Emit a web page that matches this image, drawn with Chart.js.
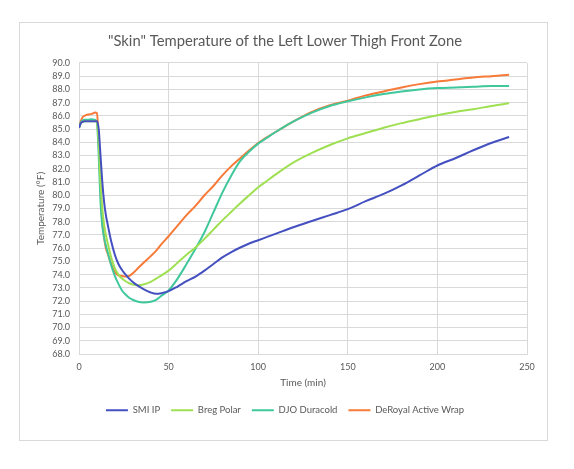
<!DOCTYPE html>
<html>
<head>
<meta charset="utf-8">
<script src="https://cdn.jsdelivr.net/npm/chart.js@4/dist/chart.umd.min.js"></script>
<style>
  html, body { margin: 0; padding: 0; background: #fff; }
  #wrap { position: relative; width: 574px; height: 469px; }
</style>
</head>
<body>
<div id="wrap"><canvas id="skin-chart" width="574" height="469"></canvas></div>
<script>
// time in minutes
var time = [0, 1, 2, 3, 5, 7, 9, 10, 11, 12, 13, 14, 15, 16, 18, 20, 22, 24, 26, 28, 30, 33, 36, 40, 43, 46, 50, 55, 60, 65, 70, 75, 80, 85, 90, 95, 100, 105, 110, 120, 130, 140, 150, 160, 170, 180, 190, 200, 210, 220, 230, 240];

var smiIP = [85.1, 85.45, 85.55, 85.6, 85.6, 85.6, 85.6, 85.6, 85.0, 83.0, 81.0, 79.5, 78.5, 77.8, 76.5, 75.5, 74.8, 74.35, 74.0, 73.7, 73.45, 73.15, 72.9, 72.65, 72.55, 72.6, 72.75, 73.1, 73.5, 73.85, 74.3, 74.8, 75.3, 75.7, 76.05, 76.35, 76.6, 76.85, 77.1, 77.6, 78.05, 78.5, 78.95, 79.55, 80.1, 80.75, 81.5, 82.25, 82.8, 83.4, 83.95, 84.4];
var bregPolar = [85.1, 85.45, 85.55, 85.6, 85.6, 85.6, 85.6, 85.5, 84.0, 81.0, 79.0, 77.8, 77.0, 76.4, 75.3, 74.5, 74.0, 73.7, 73.5, 73.35, 73.25, 73.2, 73.25, 73.45, 73.7, 73.95, 74.3, 74.9, 75.5, 76.05, 76.7, 77.4, 78.1, 78.75, 79.4, 80.0, 80.6, 81.1, 81.6, 82.5, 83.2, 83.8, 84.3, 84.7, 85.1, 85.45, 85.75, 86.05, 86.3, 86.5, 86.75, 86.95];
var djoDuracold = [85.1, 85.5, 85.65, 85.7, 85.7, 85.75, 85.7, 85.5, 83.0, 79.5, 77.7, 76.8, 76.2, 75.7, 74.7, 73.9, 73.3, 72.8, 72.5, 72.25, 72.1, 71.95, 71.9, 71.95, 72.1, 72.4, 72.8, 73.7, 74.8, 75.95, 77.2, 78.7, 80.2, 81.5, 82.6, 83.3, 83.9, 84.35, 84.8, 85.6, 86.25, 86.75, 87.1, 87.4, 87.65, 87.85, 88.0, 88.1, 88.15, 88.2, 88.25, 88.25];
var deRoyal = [85.1, 85.6, 85.9, 86.0, 86.1, 86.15, 86.25, 86.2, 84.0, 80.5, 78.0, 76.8, 76.0, 75.6, 74.8, 74.2, 73.95, 73.9, 73.85, 73.9, 74.1, 74.5, 74.9, 75.4, 75.8, 76.3, 76.9, 77.7, 78.5, 79.2, 80.0, 80.7, 81.5, 82.2, 82.8, 83.4, 83.95, 84.4, 84.8, 85.6, 86.3, 86.8, 87.15, 87.55, 87.85, 88.15, 88.4, 88.6, 88.75, 88.9, 89.0, 89.1];

var seriesNames = ["SMI IP", "Breg Polar", "DJO Duracold", "DeRoyal Active Wrap"];
var seriesColors = ["#4450c0", "#9fe052", "#40c79c", "#f77a38"];
var xTicks = [0, 50, 100, 150, 200, 250];

function toPoints(vals) {
    return vals.map(function(v, i) { return {x: time[i], y: v}; });
}

var allSeries = [smiIP, bregPolar, djoDuracold, deRoyal];
var datasets = [];
allSeries.forEach(function(vals, i) {
    datasets.push({
        label: seriesNames[i],
        data: toPoints(vals),
        borderColor: seriesColors[i],
        backgroundColor: seriesColors[i],
        borderWidth: 2,
        pointRadius: 0,
        cubicInterpolationMode: 'monotone'
    });
});

var textColor = "#595959";
var gridColor = "#d9d9d9";

// white background + outer frame
var framePlugin = {
    id: 'frame',
    beforeDraw: function(chart) {
        var ctx = chart.ctx;
        ctx.save();
        ctx.fillStyle = "#fff";
        ctx.fillRect(0, 0, chart.width, chart.height);
        ctx.strokeStyle = gridColor;
        ctx.lineWidth = 1;
        ctx.strokeRect(19.5, 22.5, 528, 418);
        ctx.restore();
    }
};

new Chart(document.getElementById("skin-chart"), {
    type: 'line',
    data: { datasets: datasets },
    plugins: [framePlugin],
    options: {
        responsive: false,
        animation: false,
        layout: { padding: { left: 20, right: 24, top: 0, bottom: 44 } },
        plugins: {
            title: {
                display: true,
                text: '"Skin" Temperature of the Left Lower Thigh Front Zone',
                color: textColor,
                font: { family: 'Lato', size: 14.8, weight: 'normal', lineHeight: 1.2 },
                padding: { top: 32.5, bottom: 12.7 }
            },
            legend: {
                display: true,
                position: 'bottom',
                labels: {
                    usePointStyle: true,
                    pointStyle: 'line',
                    pointStyleWidth: 22,
                    padding: 11,
                    color: textColor,
                    font: { family: 'Lato', size: 9.5 }
                }
            },
            tooltip: { enabled: false }
        },
        scales: {
            x: {
                type: 'linear',
                min: 0,
                max: 250,
                afterFit: function(scale) { scale.height = 40.5; },
                afterBuildTicks: function(scale) {
                    scale.ticks = xTicks.map(function(v) { return {value: v}; });
                },
                grid: { color: gridColor, drawTicks: false },
                border: { color: gridColor },
                ticks: { color: textColor, padding: 8, autoSkip: false, font: { family: 'Lato', size: 9 } },
                title: {
                    display: true,
                    text: 'Time (min)',
                    color: textColor,
                    font: { family: 'Lato', size: 10, lineHeight: 1.2 },
                    padding: { top: 0, bottom: 5.5 }
                }
            },
            y: {
                min: 68,
                max: 90,
                afterFit: function(scale) { scale.width = 59; },
                grid: { color: gridColor, drawTicks: false },
                border: { color: gridColor },
                ticks: {
                    stepSize: 1,
                    autoSkip: false,
                    color: textColor,
                    padding: 9,
                    font: { family: 'Lato', size: 9 },
                    callback: function(v) { return v.toFixed(1); }
                },
                title: {
                    display: true,
                    text: 'Temperature (°F)',
                    color: textColor,
                    font: { family: 'Lato', size: 10, lineHeight: 1.2 },
                    padding: { top: 15, bottom: 0 }
                }
            },
            // empty right-hand axis, only keeps the plot edge at the right spot
            yRight: {
                position: 'right',
                display: true,
                afterFit: function(scale) { scale.width = 23; },
                grid: { display: false },
                border: { display: false },
                ticks: { display: false }
            }
        }
    }
});
</script>
</body>
</html>
